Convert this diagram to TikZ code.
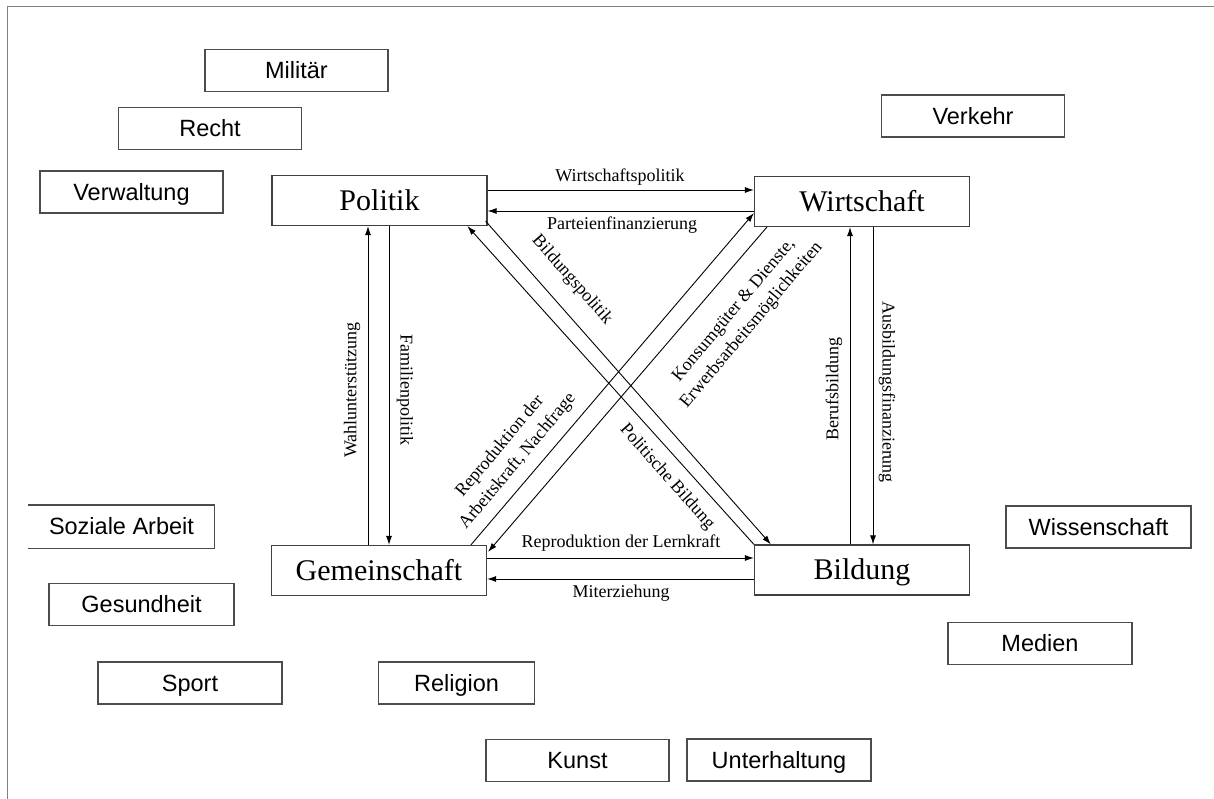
\documentclass[tikz,border=0pt]{standalone}
\usepackage{fontspec}
\setmainfont{Liberation Serif}
\newfontfamily\arialf{Liberation Sans}
\usetikzlibrary{arrows.meta,calc}
\begin{document}
\begin{tikzpicture}[x=1pt,y=-1pt]
\tikzset{
 big/.style={draw=black!75, line width=1.2pt, minimum width=215pt, minimum height=50pt, inner sep=0pt, text height=19.9pt, text depth=0pt, font=\fontsize{30}{36}\selectfont},
 outer/.style={draw=black!70, line width=1.2pt, minimum width=183pt, minimum height=42pt, inner sep=0pt, text height=16.8pt, text depth=0pt, font=\arialf\fontsize{23.5}{28}\selectfont},
 lbl/.style={font=\fontsize{18}{23}\selectfont, inner sep=1pt, align=center},
 arr/.style={-{Latex[length=9pt,width=6pt]}, line width=0.9pt},
 frame/.style={draw=black!50, line width=1pt}
}
\useasboundingbox[fill=white] (0,0) rectangle (1214,799);
\coordinate (f0) at (7,799);
\coordinate (f1) at (7,7);
\coordinate (f2) at (1214,7);
\draw[frame] (f0) -- (f1) -- (f2);

% main nodes
\node[big] (Politik) at (379.5,200.5) {Politik};
\node[big] (Wirtschaft) at (862,201.5) {Wirtschaft};
\node[big] (Gemeinschaft) at (379,570.5) {Gemeinschaft};
\node[big] (Bildung) at (862,570) {Bildung};

% outer nodes
\node[outer] (Militaer) at (296.5,70.5) {Militär};
\node[outer] (Recht) at (210,128.5) {Recht};
\node[outer] (Verwaltung) at (131.5,192) {Verwaltung};
\node[outer] (Verkehr) at (973,116) {Verkehr};
\node[outer, draw=none, minimum width=185pt] (Soziale) at (121.5,526.5) {Soziale Arbeit};
\draw[draw=black!70, line width=1.2pt] (Soziale.north west) -- (Soziale.north east) -- (Soziale.south east) -- (Soziale.south west);
\node[outer, minimum width=185pt] (Gesundheit) at (141.5,604.5) {Gesundheit};
\node[outer, minimum width=184pt] (Sport) at (190,683) {Sport};
\node[outer, minimum width=156pt] (Religion) at (456.5,683) {Religion};
\node[outer] (Kunst) at (577.5,760.5) {Kunst};
\node[outer, minimum width=184pt] (Unterhaltung) at (779,760) {Unterhaltung};
\node[outer, minimum width=185pt] (Wissenschaft) at (1098.5,527) {Wissenschaft};
\node[outer, minimum width=184pt] (Medien) at (1040,643.5) {Medien};

% horizontal arrows
\draw[arr] (Politik.east |- 0,190) -- (Wirtschaft.west |- 0,190);
\draw[arr] (Wirtschaft.west |- 0,211) -- (Politik.east |- 0,211);
\draw[arr] (Gemeinschaft.east |- 0,558) -- (Bildung.west |- 0,558);
\draw[arr] (Bildung.west |- 0,579) -- (Gemeinschaft.east |- 0,579);
\node[lbl] (l1) at (620,177) {Wirtschaftspolitik};
\node[lbl] (l2) at (622,225) {Parteienfinanzierung};
\node[lbl] (l3) at (621,543) {Reproduktion der Lernkraft};
\node[lbl] (l4) at (621,593) {Miterziehung};

% vertical arrows
\draw[arr] (Gemeinschaft.north -| 368,0) -- (Politik.south -| 368,0);
\draw[arr] (Politik.south -| 389,0) -- (Gemeinschaft.north -| 389,0);
\draw[arr] (Bildung.north -| 850,0) -- (Wirtschaft.south -| 850,0);
\draw[arr] (Wirtschaft.south -| 873,0) -- (Bildung.north -| 873,0);
\node[lbl, rotate=90] (l5) at (352,390) {Wahlunterstützung};
\node[lbl, rotate=-90] (l6) at (405,390) {Familienpolitik};
\node[lbl, rotate=90] (l7) at (834,389) {Berufsbildung};
\node[lbl, rotate=-90] (l8) at (887,392) {Ausbildungsfinanzierung};

% diagonal arrows
\draw[arr] ($(Politik.south east)+(-2,-5)$) -- ($(Bildung.north west)+(17,0)$);
\draw[arr] (Bildung.north west) -- ($(Politik.south west)+(196,0)$);
\draw[arr] ($(Wirtschaft.south west)+(13,0)$) -- ($(Gemeinschaft.north east)+(1,7)$);
\draw[arr] ($(Gemeinschaft.north west)+(200,0)$) -- ($(Wirtschaft.south west)+(0,-14)$);
\node[lbl, rotate=-48.5] (l9) at (572,280) {Bildungspolitik};
\node[lbl, rotate=-48.5] (l10) at (667,477) {Politische Bildung};
\node[lbl, rotate=50] (l11) at (509,454) {Reproduktion der\\Arbeitskraft, Nachfrage};
\node[lbl, rotate=50] (l12) at (743,318) {Konsumgüter \& Dienste,\\Erwerbsarbeitsmöglichkeiten};
\end{tikzpicture}
\end{document}
